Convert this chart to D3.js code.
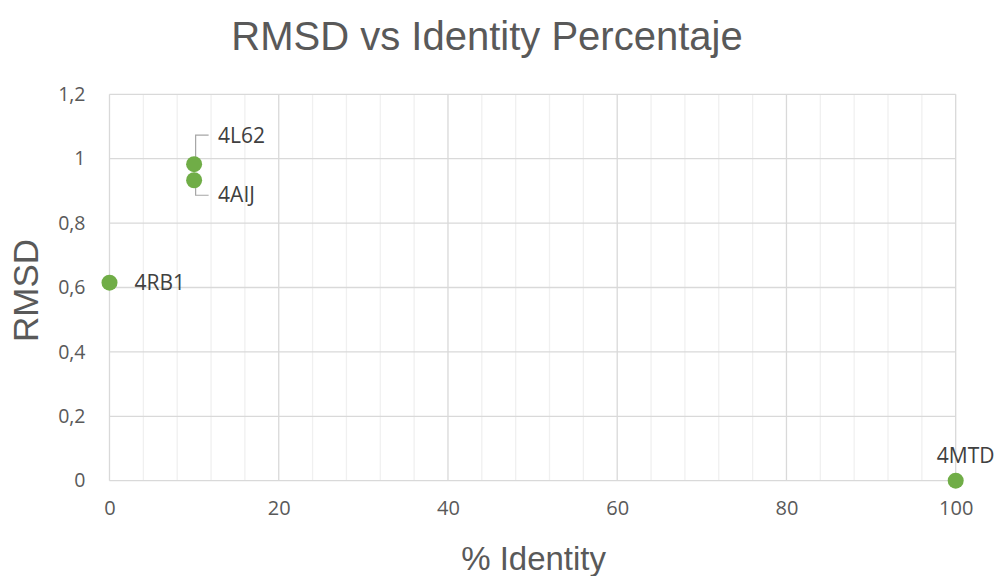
<!DOCTYPE html>
<meta charset="utf-8">
<script src="https://cdn.jsdelivr.net/npm/d3@7"></script>
<style>
body { margin: 0; background: #fff; }
text { fill: #595959; }
.tick text { font-family: "Open Sans", sans-serif; }
.title { font-family: "Liberation Sans", Arial, sans-serif; }
.lbl { font-family: "Open Sans", sans-serif; font-size: 20px; fill: #404040; }
</style>
<body>
<script>

// data
var proteins = ["4L62", "4AIJ", "4RB1", "4MTD"];
var identity = [10, 10, 0, 100];
var rmsd = [0.983, 0.933, 0.615, 0];

var xTicks = [0, 20, 40, 60, 80, 100];
var yTicks = [0, 0.2, 0.4, 0.6, 0.8, 1, 1.2];

var width = 1000, height = 576;
var plotL = 109.5, plotR = 955.7, plotT = 94.3, plotB = 480.7;

var svg = d3.select("body").append("svg")
    .attr("width", width)
    .attr("height", height);

var x = d3.scaleLinear().domain([0, 100]).range([plotL, plotR]);
var y = d3.scaleLinear().domain([0, 1.2]).range([plotB, plotT]);

// minor vertical grid every 4
svg.append("g")
  .selectAll("line")
  .data(d3.range(0, 101, 4).filter(function(d) { return d % 20 != 0; }))
  .enter().append("line")
    .attr("x1", function(d) { return x(d); })
    .attr("x2", function(d) { return x(d); })
    .attr("y1", plotT)
    .attr("y2", plotB)
    .style("stroke", "#f0f0f0")
    .style("stroke-width", 1.3);

// major grid
svg.append("g")
  .selectAll("line")
  .data(xTicks)
  .enter().append("line")
    .attr("x1", function(d) { return x(d); })
    .attr("x2", function(d) { return x(d); })
    .attr("y1", plotT)
    .attr("y2", plotB)
    .style("stroke", "#d9d9d9")
    .style("stroke-width", 1.3);

svg.append("g")
  .selectAll("line")
  .data(yTicks)
  .enter().append("line")
    .attr("x1", plotL)
    .attr("x2", plotR)
    .attr("y1", function(d) { return y(d); })
    .attr("y2", function(d) { return y(d); })
    .style("stroke", "#d9d9d9")
    .style("stroke-width", 1.3);

var fmt = function(d) { return String(d).replace(".", ","); };

// axes (labels only, Excel style)
var xAxis = svg.append("g")
    .attr("transform", "translate(0," + plotB + ")")
    .call(d3.axisBottom(x).tickValues(xTicks).tickSize(0).tickPadding(20).tickFormat(fmt));
xAxis.select(".domain").remove();
xAxis.selectAll("text").style("font-size", "20px").attr("fill", "#595959");

var yAxis = svg.append("g")
    .attr("transform", "translate(" + plotL + ",0)")
    .call(d3.axisLeft(y).tickValues(yTicks).tickSize(0).tickPadding(24).tickFormat(fmt));
yAxis.select(".domain").remove();
yAxis.selectAll("text").style("font-size", "19.5px").attr("fill", "#595959");

// titles
svg.append("text")
    .attr("class", "title")
    .attr("x", 487)
    .attr("y", 50)
    .attr("text-anchor", "middle")
    .style("font-size", "40px")
    .text("RMSD vs Identity Percentaje");

svg.append("text")
    .attr("class", "title")
    .attr("x", (plotL + plotR) / 2 + 1)
    .attr("y", 570)
    .attr("text-anchor", "middle")
    .style("font-size", "33px")
    .text("% Identity");

svg.append("text")
    .attr("class", "title")
    .attr("transform", "translate(38," + (y(0.6) + 3) + ") rotate(-90)")
    .attr("text-anchor", "middle")
    .style("font-size", "35px")
    .text("RMSD");

var points = proteins.map(function(p, i) {
  return {name: p, x: identity[i], y: rmsd[i]};
});

// how each data label sits
var place = {
  "4L62": "leaderUp",
  "4AIJ": "leaderDown",
  "4RB1": "right",
  "4MTD": "above"
};

var leaders = points.filter(function(d) { return place[d.name].indexOf("leader") == 0; });

svg.append("g")
  .selectAll("path")
  .data(leaders)
  .enter().append("path")
    .attr("d", function(d) {
      var px = x(d.x) + 1.5, py = y(d.y);
      var ly = place[d.name] == "leaderUp" ? py - 29 : py + 15;
      return "M" + px + "," + py + "L" + px + "," + ly + "L" + (px + 13) + "," + ly;
    })
    .style("fill", "none")
    .style("stroke", "#a6a6a6")
    .style("stroke-width", 1.2);

svg.append("g")
  .selectAll("circle")
  .data(points)
  .enter().append("circle")
    .attr("cx", function(d) { return x(d.x); })
    .attr("cy", function(d) { return y(d.y); })
    .attr("r", 8)
    .style("fill", "#70ad47");

svg.append("g")
  .selectAll("text")
  .data(points)
  .enter().append("text")
    .attr("class", "lbl")
    .attr("x", function(d) {
      var p = place[d.name];
      if (p == "above") return x(d.x) + 10;
      if (p == "right") return x(d.x) + 25;
      return x(d.x) + 24;
    })
    .attr("y", function(d) {
      var p = place[d.name];
      if (p == "above") return y(d.y) - 18;
      if (p == "right") return y(d.y) + 7;
      if (p == "leaderUp") return y(d.y) - 21;
      return y(d.y) + 22;
    })
    .attr("text-anchor", function(d) { return place[d.name] == "above" ? "middle" : "start"; })
    .style("font-size", "21px")
    .text(function(d) { return d.name; });

</script>
</body>
</html>
